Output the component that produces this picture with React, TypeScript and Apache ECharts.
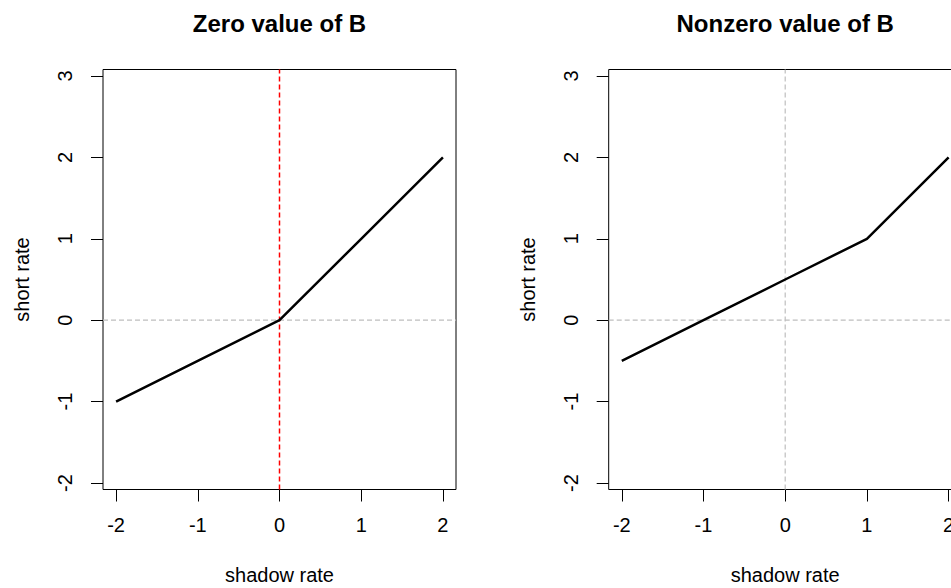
import React, { useEffect, useRef } from "react";
import * as echarts from "echarts";

const shadowRate = [-2, -1, 0, 1, 2];
const shortRateZeroB = [-1, -0.5, 0, 1, 2];
const shortRateNonzeroB = [-0.5, 0, 0.5, 1, 2];
const xTicks = [-2, -1, 0, 1, 2];
const yTicks = [-2, -1, 0, 1, 2, 3];
const panelTitles = ["Zero value of B", "Nonzero value of B"];
const vLineColors = ["#ff0000", "#bebebe"];
const xLabel = "shadow rate";
const yLabel = "short rate";
const X_RANGE = [-2.16, 2.16];
const Y_RANGE = [-2.08, 3.08];

const FONT = "Liberation Sans, Arial, sans-serif";
const BOX_W = 353;
const BOX_H = 420;
const BOX_TOP = 69.5;
const LEFTS = [103, 608.7];

export default function App() {
  const ref = useRef<HTMLDivElement>(null);
  useEffect(() => {
    if (!ref.current) return;
    const chart = echarts.init(ref.current, null, { renderer: "svg" });
    const grids = LEFTS.map((l) => ({
      left: l,
      top: BOX_TOP,
      width: BOX_W,
      height: BOX_H,
      show: true,
      borderColor: "#000",
      borderWidth: 1,
      backgroundColor: "transparent",
      containLabel: false,
    }));
    const xAxes = LEFTS.map((_, i) => ({
      type: "value",
      gridIndex: i,
      min: X_RANGE[0],
      max: X_RANGE[1],
      splitLine: { show: false },
      axisLine: { show: false, onZero: false },
      axisTick: { show: true, length: 12, customValues: xTicks, lineStyle: { color: "#000", width: 1 } },
      axisLabel: { customValues: xTicks, color: "#000", fontSize: 20, fontFamily: FONT, margin: 25 },
    }));
    const yAxes = LEFTS.map((_, i) => ({
      type: "value",
      gridIndex: i,
      min: Y_RANGE[0],
      max: Y_RANGE[1],
      splitLine: { show: false },
      axisLine: { show: false, onZero: false },
      axisTick: { show: true, length: 12, customValues: yTicks, lineStyle: { color: "#000", width: 1 } },
      axisLabel: { customValues: yTicks, color: "#000", fontSize: 20, fontFamily: FONT, margin: 28, rotate: 90 },
    }));
    const dashedSeries = (i: number, data: number[][], color: string, w: number) => ({
      type: "line",
      xAxisIndex: i,
      yAxisIndex: i,
      data,
      symbol: "none",
      silent: true,
      color,
      itemStyle: { color },
      lineStyle: { color, type: [5, 3], width: w, opacity: 1 },
      z: 1,
    });
    const series: any[] = [];
    [shortRateZeroB, shortRateNonzeroB].forEach((vals, i) => {
      series.push(dashedSeries(i, [[X_RANGE[0], 0], [X_RANGE[1], 0]], "#bebebe", 1.2));
      series.push(dashedSeries(i, [[0, Y_RANGE[0]], [0, Y_RANGE[1]]], vLineColors[i], i === 0 ? 1.5 : 1.2));
      series.push({
        type: "line",
        xAxisIndex: i,
        yAxisIndex: i,
        data: shadowRate.map((x, k) => [x, vals[k]]),
        symbol: "none",
        color: "#000",
        lineStyle: { color: "#000", width: 2.5 },
        z: 2,
      });
    });
    const graphic: any[] = [];
    LEFTS.forEach((l, i) => {
      const cx = l + BOX_W / 2;
      graphic.push({
        type: "text",
        x: cx,
        y: 23,
        style: { text: panelTitles[i], font: `bold 24px ${FONT}`, fill: "#000", textAlign: "center", textVerticalAlign: "middle" },
      });
      graphic.push({
        type: "text",
        x: cx,
        y: 575,
        style: { text: xLabel, font: `20px ${FONT}`, fill: "#000", textAlign: "center", textVerticalAlign: "middle" },
      });
      graphic.push({
        type: "text",
        x: l - 81,
        y: BOX_TOP + BOX_H / 2,
        rotation: Math.PI / 2,
        style: { text: yLabel, font: `20px ${FONT}`, fill: "#000", textAlign: "center", textVerticalAlign: "middle" },
      });
    });
    chart.setOption({
      animation: false,
      backgroundColor: "#fff",
      grid: grids,
      xAxis: xAxes,
      yAxis: yAxes,
      series,
      graphic,
    } as any);
    return () => chart.dispose();
  }, []);
  return (
    <div style={{ position: "fixed", left: 0, top: 0, width: 951, height: 588, overflow: "hidden", background: "#fff" }}>
      <div ref={ref} style={{ width: 965, height: 588 }} />
    </div>
  );
}
